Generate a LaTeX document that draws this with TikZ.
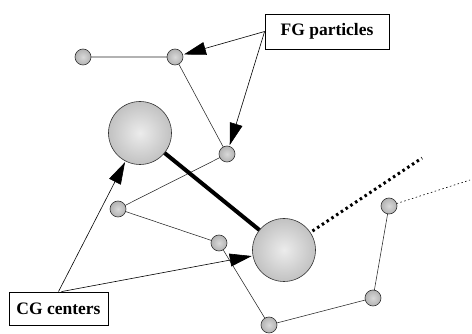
\documentclass[tikz,border=0pt]{standalone}
\usepackage{fontspec}
\setmainfont{Liberation Serif}[BoldFont={Liberation Serif Bold}]
\usetikzlibrary{arrows.meta}
\begin{document}
\begin{tikzpicture}[x=1pt,y=-1pt,
  fg/.style={circle,draw=black!80,line width=0.6pt,minimum size=16pt,inner sep=0pt,
    shading=radial,inner color=gray!30,outer color=gray!60},
  cg/.style={circle,draw=black!80,line width=0.6pt,minimum size=63pt,inner sep=0pt,
    shading=radial,inner color=gray!15,outer color=gray!48},
  bond/.style={line width=0.55pt,black!85},
  lab/.style={draw,line width=0.8pt,font=\bfseries\fontsize{17.5}{20}\selectfont,
    inner xsep=6pt,inner ysep=4pt},
  pointer/.style={line width=0.6pt,-{Triangle[length=22pt,width=13pt]},shorten >=1pt}
]
\useasboundingbox (0,0) rectangle (472,334);
\coordinate (p1) at (83,57);
\coordinate (p2) at (175,57);
\coordinate (p3) at (227,154);
\coordinate (p4) at (118,209);
\coordinate (p5) at (219,243);
\coordinate (p6) at (269,325);
\coordinate (p7) at (373,298);
\coordinate (p8) at (389,206);
\coordinate (c1) at (140,133);
\coordinate (c2) at (284,250);
\coordinate (dotend) at (422,158);
\coordinate (thinend) at (470,180);
\draw[bond] (p1)--(p2)--(p3)--(p4)--(p5)--(p6)--(p7)--(p8);
\draw[line width=0.6pt,dash pattern=on 1.5pt off 2.5pt] (p8)--(thinend);
\draw[line width=4pt] (c1)--(c2);
\draw[line width=3pt,dash pattern=on 2.5pt off 3.2pt] (c2)--(dotend);
\node[fg] (n1) at (p1) {};
\node[fg] (n2) at (p2) {};
\node[fg] (n3) at (p3) {};
\node[fg] (n4) at (p4) {};
\node[fg] (n5) at (p5) {};
\node[fg] (n6) at (p6) {};
\node[fg] (n7) at (p7) {};
\node[fg] (n8) at (p8) {};
\node[cg] (m1) at (c1) {};
\node[cg] (m2) at (c2) {};
\node[lab,minimum width=124pt,minimum height=35pt] (fgl) at (327,31.5) {FG particles};
\node[lab,minimum width=99pt,minimum height=33pt] (cgl) at (58.5,308.5) {CG centers};
\draw[pointer] (fgl.west) -- (n2);
\draw[pointer] (fgl.west) -- (n3);
\draw[pointer] (cgl.north) -- (m1);
\draw[pointer] ([xshift=3pt]cgl.north) -- (m2);
\end{tikzpicture}
\end{document}
